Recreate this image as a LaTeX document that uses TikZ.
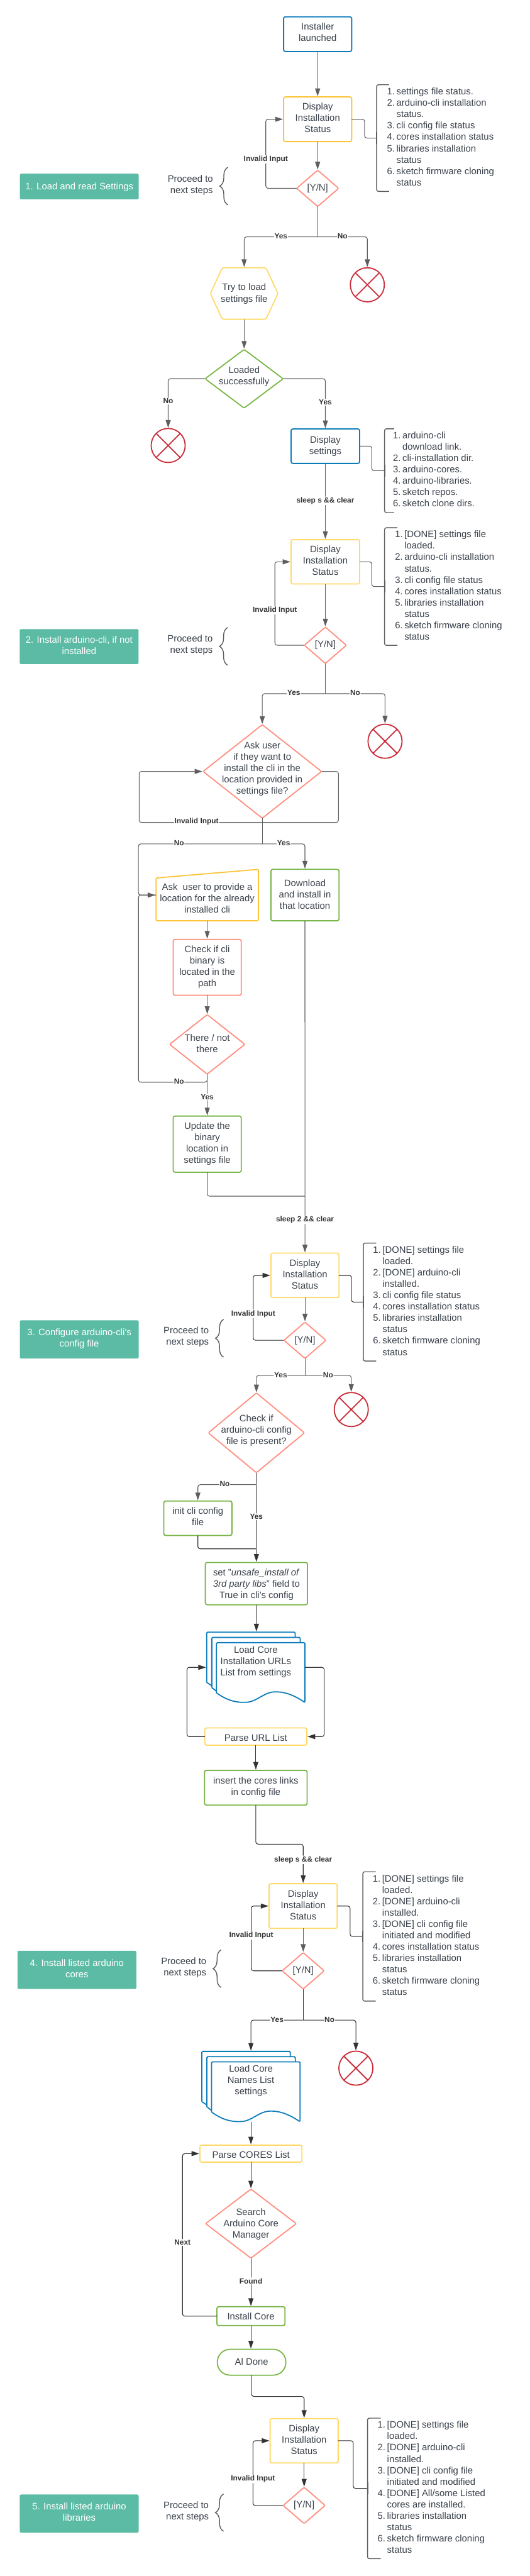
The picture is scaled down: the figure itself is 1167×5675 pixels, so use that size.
\documentclass[tikz,border=0pt]{standalone}
\usepackage{fontspec}
\setmainfont{Liberation Sans}
\usepackage{xcolor}
\usepackage{tikz}
\usetikzlibrary{positioning,arrows.meta,shapes.geometric,calc,decorations.pathreplacing}

\definecolor{bluec}{HTML}{0C7CBA}
\definecolor{yelc}{HTML}{FFDA6A}
\definecolor{ambc}{HTML}{FCC438}
\definecolor{grnc}{HTML}{7AB648}
\definecolor{corc}{HTML}{FF8F80}
\definecolor{redc}{HTML}{C92D39}
\definecolor{tealc}{HTML}{5CBBA5}
\definecolor{linec}{HTML}{5E5E5E}
\definecolor{darkc}{HTML}{333333}
\definecolor{txtc}{HTML}{3A414A}

\newcommand{\li}[1]{\makebox[20.8pt][l]{#1}}
\newcommand{\docpages}[1]{%
  \begin{scope}[shift={(#1.north west)}]
    \draw[page] (0,-110.5) -- (0,0) -- (195,0) -- (195,-11.6);
    \draw[page] (0,-110.5) -- (11.2,-118);
    \draw[page] (11.2,-122) -- (11.2,-11.6) -- (206,-11.6) -- (206,-23);
    \draw[page] (11.2,-122) -- (21.5,-130);
    \draw[page] (21.5,-133.4) -- (21.5,-23) -- (216.5,-23) -- (216.5,-155)
      .. controls (196,-141) and (176,-132) .. (154,-131.5)
      .. controls (126,-131) and (111,-154) .. (84,-154.5)
      .. controls (61,-155) and (41,-148) .. (21.5,-133.4);
  \end{scope}}

\begin{document}
\begin{tikzpicture}[
      x=1pt, y=1pt,
      every node/.style={font=\fontsize{20.6pt}{25pt}\selectfont, text=txtc},
      box/.style={draw, rectangle, rounded corners=4pt, line width=2.5pt, text depth=6pt,
                  minimum width=150pt, align=center, inner sep=0pt, outer sep=0pt},
      bluebox/.style={box, draw=bluec},
      ambbox/.style={box, draw=ambc},
      yelbox/.style={box, draw=yelc},
      grnbox/.style={box, draw=grnc},
      redbox/.style={box, draw=corc},
      dia/.style={draw=corc, diamond, aspect=1, rounded corners=3pt, line width=2.5pt,
                  align=center, inner sep=-30pt, outer sep=0pt},
      yesno/.style={dia, minimum width=92.5pt, minimum height=80pt},
      nogo/.style={draw=redc, circle, line width=2.5pt, minimum size=75pt, inner sep=0pt,
                   outer sep=0pt,
                   path picture={\draw[redc, line width=2.5pt]
                     (path picture bounding box.south west) -- (path picture bounding box.north east)
                     (path picture bounding box.north west) -- (path picture bounding box.south east);}},
      tagbox/.style={fill=tealc, rectangle, rounded corners=3pt, minimum width=262pt,
                     align=center, inner sep=0pt, outer sep=0pt, text depth=7pt,
                     font=\fontsize{20.6pt}{25pt}\selectfont, text=white},
      procnote/.style={align=right, inner sep=0pt, outer sep=0pt},
      lst/.style={align=left, inner ysep=0pt, inner xsep=0pt, outer sep=0pt, text depth=5.5pt},
      holder/.style={rectangle, align=center, inner sep=0pt, outer sep=0pt},
      page/.style={draw=bluec, line width=2.5pt, rounded corners=2pt, line join=round},
      conn/.style={draw=linec, line width=1.5pt, rounded corners=5pt},
      arr/.style={conn, -{Triangle[length=17pt,width=11pt]}, shorten >=1.5pt},
      lbl/.style={fill=white, inner xsep=1pt, inner ysep=1.5pt, text=darkc,
                  font=\fontsize{16.5pt}{20pt}\selectfont\bfseries},
      lblh/.style={lbl, yshift=1.5pt},
      brk/.style={draw=linec, line width=2pt, rounded corners=4pt},
      brc/.style={draw=linec, line width=2pt, decorate,
                  decoration={brace, amplitude=18pt}},
    ]
    \useasboundingbox (0,0) rectangle (1167,-5675);

    % 1. load and read settings
    \node[bluebox, minimum height=76.5pt, text depth=8pt] (inst) at (700,-75.25) {Installer\\launched};
    \node[ambbox, minimum height=98.4pt, below=100pt of inst] (st1) {Display\\Installation\\Status};
    \node[yesno, below=63pt of st1] (yn1) {[Y/N]};
    \node[holder, minimum width=149pt, minimum height=113.4pt, text depth=3pt, below=135pt of yn1, xshift=-162pt] (hex1) {Try to load\\settings file};
    \node[nogo, below=135pt of yn1, xshift=109.5pt] (no1) {};
    \node[dia, draw=grnc, minimum width=172pt, minimum height=129pt, text depth=14pt, below=66.6pt of hex1] (load) {Loaded\\successfully};
    \node[nogo, below=45pt of load, xshift=-167.4pt] (no2) {};
    \node[bluebox, minimum width=151pt, minimum height=76pt, text depth=4pt, below=46pt of load, xshift=179pt] (show) {Display\\settings};
    \node[lst, minimum height=235pt, right=55pt of st1, yshift=-41.5pt, inner xsep=23pt] (lst1) {%
      \li{1.}settings file status.\\\li{2.}arduino-cli installation\\\li{}status.\\\li{3.}cli config file status\\%
      \li{4.}cores installation status\\\li{5.}libraries installation\\\li{}status\\\li{6.}sketch firmware cloning\\\li{}status};
    \node[lst, minimum height=184.5pt, right=55pt of show, yshift=-54pt, inner xsep=18.6pt] (lst2) {%
      \li{1.}arduino-cli\\\li{}download link.\\\li{2.}cli-installation dir.\\\li{3.}arduino-cores.\\%
      \li{4.}arduino-libraries.\\\li{5.}sketch repos.\\\li{6.}sketch clone dirs.};
    \node[procnote, left=184.5pt of yn1, yshift=7pt] (proc1) {Proceed to\\next steps};
    \node[tagbox, minimum height=56.4pt, text depth=2pt, left=63.8pt of proc1, yshift=-3pt] (tag1) {1. Load and read Settings};

    \draw[yelc, line width=2.5pt, rounded corners=4pt] (hex1.west) -- ($(hex1.north west)+(26.5,0)$) -- ($(hex1.north east)+(-26.5,0)$)
      -- (hex1.east) -- ($(hex1.south east)+(-26.5,0)$) -- ($(hex1.south west)+(26.5,0)$) -- cycle;
    \coordinate (br1) at ($(yn1.south)+(0,-67)$);
    \draw[arr] (inst) -- (st1);
    \draw[arr] (st1) -- (yn1);
    \draw[arr] (yn1.west) -- ++(-68,0) |- node[lbl, pos=.209] {Invalid Input} (st1.west);
    \draw[conn] (yn1.south) -- (br1);
    \draw[arr] (br1) -| node[lblh, pos=.25] {Yes} (hex1.north);
    \draw[arr] (br1) -| node[lblh, pos=.25] {No} (no1.north);
    \draw[arr] (hex1.south) -- (load.north);
    \draw[arr] (load.west) -| node[lbl, pos=.725] {No} (no2.north);
    \draw[arr] (load.east) -| node[lbl, pos=.734] {Yes} (show.north);
    \draw[conn] (st1.east) -- ++(28.5,0) |- (lst1.west);
    \draw[conn] (show.east) -- ++(26.8,0) |- (lst2.west);

    % 2. install arduino-cli
    \node[yelbox, minimum width=151pt, minimum height=97.6pt, below=168pt of show] (st2) {Display\\Installation\\Status};
    \node[yesno, below=95pt of st2] (yn2) {[Y/N]};
    \node[nogo, below=134pt of yn2, xshift=131.5pt] (no3) {};
    \node[dia, minimum width=261pt, minimum height=206pt, text depth=16pt, below=135pt of yn2, xshift=-139pt] (ask) {Ask user\\if they want to\\install the cli in the\\location provided in\\settings file?};
    \node[grnbox, minimum height=113.3pt, text depth=4pt, below=112.7pt of ask, xshift=94pt] (dl) {Download\\and install in\\that location};
    \node[holder, minimum width=225.5pt, minimum height=113.3pt, left=27.6pt of dl] (locn) {\rule{0pt}{29pt}Ask\ \ user to provide a\\location for the already\\installed cli};
    \node[redbox, minimum height=123pt, below=41pt of locn] (chk) {Check if cli\\binary is\\located in the\\path};
    \node[dia, minimum width=166pt, minimum height=131pt, text depth=3pt, below=42.8pt of chk] (thr) {There / not\\there};
    \node[grnbox, minimum height=123.7pt, below=92.4pt of thr] (upd) {Update the\\binary\\location in\\settings file};
    \node[lst, minimum height=259pt, right=55pt of st2, yshift=-54.5pt, inner xsep=23pt] (lst3) {%
      \li{1.}[DONE] settings file\\\li{}loaded.\\\li{2.}arduino-cli installation\\\li{}status.\\\li{3.}cli config file status\\%
      \li{4.}cores installation status\\\li{5.}libraries installation\\\li{}status\\\li{6.}sketch firmware cloning\\\li{}status};
    \node[procnote, left=202pt of yn2] (proc2) {Proceed to\\next steps};
    \node[tagbox, minimum height=77pt, left=63.8pt of proc2, yshift=-3pt] (tag2) {2. Install arduino-cli, if not\\installed};

    \draw[ambc, line width=2.5pt, rounded corners=3pt] (locn.south west) -- (locn.south east) -- (locn.north east)
      -- ($(locn.north west)+(0,-19)$) -- cycle;
    \coordinate (br2) at ($(yn2.south)+(0,-66.7)$);
    \coordinate (invb) at ($(ask.south)+(0,-9.4)$);
    \coordinate (brA) at ($(ask.south)+(0,-56.7)$);
    \coordinate (mrg) at ($(dl.south)+(0,-606.7)$);
    \draw[arr] (show) -- node[lbl, pos=.49] {sleep s \&\& clear} (st2);
    \draw[arr] (st2) -- (yn2);
    \draw[arr] (yn2.west) -- ++(-65,0) |- node[lbl, pos=.21] {Invalid Input} (st2.west);
    \draw[conn] (yn2.south) -- (br2);
    \draw[arr] (br2) -| node[lblh, pos=.25] {Yes} (ask.north);
    \draw[arr] (br2) -| node[lblh, pos=.25] {No} (no3.north);
    \draw[conn] (st2.east) -- ++(26.8,0) |- (lst3.west);
    \draw[arr] (ask.east) -- ++(37.3,0) |- (invb) -- node[lblh, pos=.534] {Invalid Input} ++(-271.4,0) |- (ask.west);
    \draw[conn] (ask.south) -- (brA);
    \draw[arr] (brA) -- node[lblh, pos=.672] {No} ++(-273,0) |- (locn.west);
    \draw[arr] (brA) -| node[lblh, pos=.25] {Yes} (dl.north);
    \draw[arr] (locn) -- (chk);
    \draw[arr] (chk) -- (thr);
    \draw[conn] (thr.south) -- ++(0,-17.8) -- node[lblh, pos=.41] {No} ++(-151.5,0) |- (locn.west);
    \draw[arr] (thr) -- node[lbl, pos=.545] {Yes} (upd);
    \draw[conn] (upd.south) |- (mrg);

    % 3. configure arduino-cli config
    \node[yelbox, minimum height=98pt, below=178.3pt of upd, xshift=215.4pt] (st3) {Display\\Installation\\Status};
    \node[yesno, below=54pt of st3] (yn3) {[Y/N]};
    \node[nogo, below=75pt of yn3, xshift=102pt] (no4) {};
    \node[dia, minimum width=212pt, minimum height=175.7pt, text depth=14pt, below=76pt of yn3, xshift=-107pt] (cfg) {Check if\\arduino-cli config\\file is present?};
    \node[grnbox, minimum height=76pt, text depth=8pt, below=62.3pt of cfg, xshift=-129pt] (init) {init cli config\\file};
    \node[grnbox, minimum width=225pt, minimum height=93.2pt, text depth=0pt, below=197.7pt of cfg] (set) {set \symbol{34}\textit{unsafe\_install of}\\\textit{3rd party libs}\symbol{34} field to\\True in cli\symbol{39}s config};
    \node[holder, minimum width=216.5pt, minimum height=155pt, text depth=29pt, below=60.4pt of set, xshift=-1.3pt] (doc1) {Load Core\\Installation URLs\\List from settings};
    \node[yelbox, minimum width=224.8pt, minimum height=38pt, text height=19.6pt, text depth=0pt, below=56pt of doc1] (parse1) {Parse URL List};
    \node[grnbox, minimum width=226pt, minimum height=76.6pt, text depth=8pt, below=55.4pt of parse1] (ins) {insert the cores links\\in config file};
    \node[lst, minimum height=259.6pt, right=53.5pt of st3, yshift=-58.8pt, inner xsep=21.7pt] (lst4) {%
      \li{1.}[DONE] settings file\\\li{}loaded.\\\li{2.}[DONE] arduino-cli\\\li{}installed.\\\li{3.}cli config file status\\%
      \li{4.}cores installation status\\\li{5.}libraries installation\\\li{}status\\\li{6.}sketch firmware cloning\\\li{}status};
    \node[procnote, left=165.7pt of yn3, yshift=7pt] (proc3) {Proceed to\\next steps};
    \node[tagbox, minimum height=84pt, left=54.8pt of proc3, yshift=-5pt] (tag3) {3. Configure arduino-cli\symbol{39}s\\config file};

    \docpages{doc1}
    \coordinate (br3) at ($(yn3.south)+(0,-37.5)$);
    \coordinate (brC) at ($(cfg.south)+(0,-26.3)$);
    \coordinate (mrg2) at ($(set.north)+(0,30)$);
    \draw[arr] (dl.south) -- node[lbl, pos=.9] {sleep 2 \&\& clear} (st3.north);
    \draw[arr] (st3) -- (yn3);
    \draw[arr, draw=darkc] (yn3.west) -- ++(-67.7,0) |- node[lbl, pos=.204] {Invalid Input} (st3.west);
    \draw[conn] (yn3.south) -- (br3);
    \draw[arr] (br3) -| node[lblh, pos=.25] {Yes} (cfg.north);
    \draw[arr] (br3) -| node[lblh, pos=.25] {No} (no4.north);
    \draw[conn, draw=darkc] (st3.east) -- ++(27.5,0) |- (lst4.west);
    \draw[arr, draw=darkc] (cfg.south) -- node[lbl, pos=.49] {Yes} (set.north);
    \draw[arr] (brC) -| node[lblh, pos=.27] {No} (init.north);
    \draw[conn, draw=darkc] (init.south) |- (mrg2);
    \draw[arr, draw=darkc] (set.south) -- (set.south |- doc1.north);
    \draw[arr, draw=darkc] (doc1.east) -- ++(42.5,0) |- (parse1.east);
    \draw[arr, draw=darkc] (parse1.west) -- ++(-39.4,0) |- (doc1.west);
    \draw[arr, draw=darkc] (parse1) -- (ins);

    % 4. install listed cores
    \node[yelbox, minimum height=98.6pt, text depth=4.6pt, below=173pt of ins, xshift=104.4pt] (st4) {Display\\Installation\\Status};
    \node[yesno, below=53.4pt of st4] (yn4) {[Y/N]};
    \node[nogo, below=137pt of yn4, xshift=116.1pt] (no5) {};
    \node[holder, minimum width=216.5pt, minimum height=155pt, text depth=30pt, below=137.6pt of yn4, xshift=-115.2pt] (doc2) {Load Core\\Names List\\settings};
    \node[yelbox, minimum width=224.8pt, minimum height=37.4pt, text height=19.6pt, text depth=0pt, below=51.4pt of doc2] (parse2) {Parse CORES List};
    \node[dia, minimum width=200pt, minimum height=152pt, text depth=2.4pt, below=59.6pt of parse2] (srch) {Search\\Arduino Core\\Manager};
    \node[grnbox, minimum height=41.5pt, text depth=0pt, below=107pt of srch] (icore) {Install Core};
    \node[box, draw=grnc, rounded corners=28pt, minimum width=151pt, minimum height=57pt, text depth=3pt, below=52.3pt of icore, xshift=1.5pt] (done) {Al Done};
    \node[lst, minimum height=285pt, right=56.5pt of st4, yshift=-67pt, inner xsep=21.7pt] (lst5) {%
      \li{1.}[DONE] settings file\\\li{}loaded.\\\li{2.}[DONE] arduino-cli\\\li{}installed.\\\li{3.}[DONE] cli config file\\\li{}initiated and modified\\%
      \li{4.}cores installation status\\\li{5.}libraries installation\\\li{}status\\\li{6.}sketch firmware cloning\\\li{}status};
    \node[procnote, left=167.2pt of yn4, yshift=6.5pt] (proc4) {Proceed to\\next steps};
    \node[tagbox, minimum height=84.3pt, left=54.6pt of proc4, yshift=-4.5pt] (tag4) {4. Install listed arduino\\cores};

    \docpages{doc2}
    \coordinate (br4) at ($(yn4.south)+(0,-68.7)$);
    \draw[arr, draw=darkc] (ins.south) -- ++(0,-86) -| node[lbl, pos=.698] {sleep s \&\& clear} (st4.north);
    \draw[arr] (st4) -- (yn4);
    \draw[arr, draw=darkc] (yn4.west) -- ++(-68.2,0) |- node[lbl, pos=.272] {Invalid Input} (st4.west);
    \draw[conn, draw=darkc] (yn4.south) -- (br4);
    \draw[arr, draw=darkc] (br4) -| node[lblh, pos=.25] {Yes} (doc2.north);
    \draw[arr, draw=darkc] (br4) -| node[lblh, pos=.25] {No} (no5.north);
    \draw[conn, draw=darkc] (st4.east) -- ++(28.3,0) |- (lst5.west);
    \draw[arr, draw=darkc] (doc2) -- (parse2);
    \draw[arr, draw=darkc] (parse2) -- (srch);
    \draw[arr, draw=darkc] (srch) -- node[lbl, pos=.47] {Found} (icore);
    \draw[arr, draw=darkc] (icore.west) -- ++(-75.8,0) |- node[lbl, pos=.2265] {Next} (parse2.west);
    \draw[arr, draw=darkc] (icore) -- (icore.south |- done.north);

    % 5. install listed libraries
    \node[yelbox, minimum height=97.7pt, below=95.6pt of done, xshift=115.8pt] (st5) {Display\\Installation\\Status};
    \node[yesno, below=53.7pt of st5] (yn5) {[Y/N]};
    \node[lst, minimum height=309.6pt, right=64.7pt of st5, yshift=-105pt, inner xsep=22.3pt] (lst6) {%
      \li{1.}[DONE] settings file\\\li{}loaded.\\\li{2.}[DONE] arduino-cli\\\li{}installed.\\\li{3.}[DONE] cli config file\\\li{}initiated and modified\\%
      \li{4.}[DONE] All/some Listed\\\li{}cores are installed.\\\li{5.}libraries installation\\\li{}status\\\li{6.}sketch firmware cloning\\\li{}status};
    \node[procnote, left=164pt of yn5, yshift=-13.8pt] (proc5) {Proceed to\\next steps};
    \node[tagbox, minimum height=84pt, left=54.8pt of proc5, yshift=-4.2pt] (tag5) {5. Install listed arduino\\libraries};

    \draw[arr, draw=darkc] (done.south) -- ++(0,-47) -| (st5.north);
    \draw[arr, draw=darkc] (st5) -- (yn5);
    \draw[arr, draw=darkc] (yn5.west) -- ++(-66.5,0) |- node[lbl, pos=.204] {Invalid Input} (st5.west);
    \draw[conn, draw=darkc] (st5.east) -- ++(33.2,0) |- (lst6.west);

    % brackets beside the status lists, braces beside the notes
    \foreach \n/\w in {lst1/27.4, lst2/21, lst3/28.3, lst4/28.4, lst5/28.4, lst6/29} {
      \draw[brk] ($(\n.north west)+(\w,0)$) -- (\n.north west) -- (\n.south west) -- ($(\n.south west)+(\w,0)$);
      \draw[draw=linec, line width=3pt] ($(\n.west)+(0,13)$) -- ($(\n.west)+(0,-13)$);
    }
    \foreach \n/\x/\t/\b in {proc1/33/39.4/-43.5, proc2/33/39/-44, proc3/32.7/39/-44, proc4/32.7/39.7/-43.2, proc5/32.7/39/-43} {
      \draw[brc] ($(\n.east)+(\x,\b)$) -- ($(\n.east)+(\x,\t)$);
    }
  \end{tikzpicture}
\end{document}
